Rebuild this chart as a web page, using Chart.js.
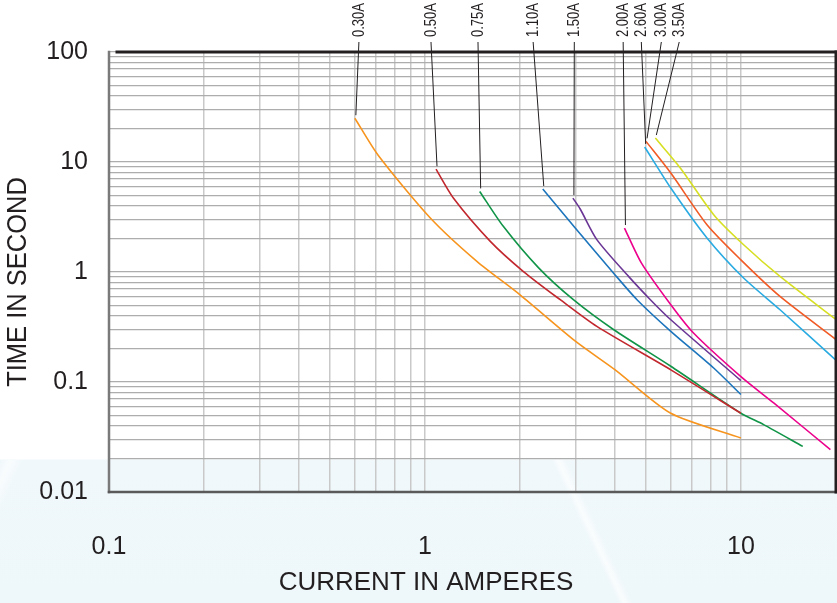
<!DOCTYPE html>
<html>
<head>
<meta charset="utf-8">
<title>Time-current curves</title>
<script src="https://cdn.jsdelivr.net/npm/chart.js@4.4.1/dist/chart.umd.min.js"></script>
<style>
  html, body { margin: 0; padding: 0; }
  body {
    width: 837px; height: 603px; overflow: hidden;
    background: linear-gradient(to bottom, #ffffff 0px, #ffffff 459px, #f0f8fb 460px, #eef7fa 603px);
    position: relative;
  }
  .streak {
    position: absolute; left: 0; top: 460px; width: 837px; height: 143px;
    background: linear-gradient(115deg, rgba(255,255,255,0) 0px, rgba(255,255,255,0.6) 10px, rgba(255,255,255,0) 22px);
    pointer-events: none;
  }
  .streak2 {
    position: absolute; left: 0; top: 460px; width: 837px; height: 143px;
    background: linear-gradient(65deg, rgba(255,255,255,0) 560px, rgba(255,255,255,0.7) 566px, rgba(255,255,255,0) 574px);
    pointer-events: none;
  }
  canvas { position: absolute; left: 0; top: 0; }
</style>
</head>
<body>
<div class="streak"></div>
<div class="streak2"></div>
<canvas id="curves" width="837" height="603"></canvas>
<script>
// ratings shown at the top, and where each label sits along the current axis
const ratings = ["0.30A", "0.50A", "0.75A", "1.10A", "1.50A", "2.00A", "2.60A", "3.00A", "3.50A"];
const labelCurrent = [0.618, 1.045, 1.472, 2.20, 2.97, 4.24, 4.84, 5.60, 6.38];
const colors = ["#f7941d", "#c1272d", "#109447", "#1c75bc", "#6a3695", "#ec008c", "#29abe2", "#f15a24", "#d7df23"];

// current (A) / time (s) pairs
const current030 = [0.6, 0.71, 1.04, 1.46, 2.0, 3.0, 4.0, 6.0, 10];
const time030    = [25, 11.6, 3.1, 1.25, 0.62, 0.234, 0.129, 0.052, 0.031];
const current050 = [1.084, 1.23, 1.61, 2.05, 2.68, 3.5, 6, 10];
const time050    = [8.6, 4.7, 1.9, 1.01, 0.56, 0.32, 0.129, 0.052];
const current075 = [1.49, 1.77, 2.29, 2.95, 3.95, 6, 10, 11.8, 15.7];
const time075    = [5.4, 2.6, 1.09, 0.56, 0.3, 0.139, 0.052, 0.041, 0.026];
const current110 = [2.36, 2.99, 3.95, 4.69, 6, 8.2, 10];
const time110    = [5.68, 2.51, 0.98, 0.56, 0.289, 0.134, 0.077];
const current150 = [2.94, 3.1, 3.5, 4.41, 5.17, 6, 10];
const time150    = [4.7, 3.74, 1.97, 0.912, 0.56, 0.368, 0.103];
const current200 = [4.28, 4.84, 6, 7.08, 10, 12.7, 19.2];
const time200    = [2.51, 1.21, 0.504, 0.279, 0.112, 0.0645, 0.0243];
const current260 = [4.96, 6, 7.81, 10.2, 13.3, 19.9];
const time260    = [13.7, 5.8, 2.04, 0.882, 0.454, 0.16];
const current300 = [5.01, 6, 7.81, 10, 13.3, 19.9];
const time300    = [15.4, 7.94, 2.69, 1.29, 0.6, 0.246];
const current350 = [5.36, 6.43, 8.2, 10.2, 13.3, 19.9];
const time350    = [16.5, 8.82, 3.32, 1.77, 0.912, 0.374];

const xTickLabels = [0.1, 1, 10];
const yTickLabels = [0.01, 0.1, 1, 10, 100];
const xTitle = "CURRENT IN AMPERES";
const yTitle = "TIME IN SECOND";

const currents = [current030, current050, current075, current110, current150, current200, current260, current300, current350];
const times = [time030, time050, time075, time110, time150, time200, time260, time300, time350];

const textColor = "#231f20";
const fontFamily = "'Liberation Sans', Arial, sans-serif";

function decadeTicks(min, max) {
    const ticks = [];
    for (let e = Math.floor(Math.log10(min)); e <= Math.ceil(Math.log10(max)); e++) {
        for (let m = 1; m <= 9; m++) {
            const v = parseFloat((m * Math.pow(10, e)).toPrecision(6));
            if (v >= min - 1e-9 && v <= max + 1e-9) ticks.push({ value: v });
        }
    }
    return ticks;
}

function isLabel(list, v) {
    return list.some(t => Math.abs(Math.log10(t) - Math.log10(v)) < 1e-6);
}

const framePlugin = {
    id: "frame",
    afterDatasetsDraw(chart) {
        const { ctx, chartArea: a, scales } = chart;
        ctx.save();
        // leader lines and rating labels
        ctx.strokeStyle = "#231f20";
        ctx.lineWidth = 1;
        ctx.fillStyle = textColor;
        ctx.font = "13px " + fontFamily;
        ratings.forEach((name, i) => {
            const lx = scales.x.getPixelForValue(labelCurrent[i]);
            const ex = scales.x.getPixelForValue(currents[i][0]);
            const ey = scales.y.getPixelForValue(times[i][0]);
            ctx.beginPath();
            ctx.moveTo(lx, 42);
            ctx.lineTo(ex + 1, ey - 3);
            ctx.stroke();
            ctx.save();
            ctx.translate(lx, 37);
            ctx.rotate(-Math.PI / 2);
            ctx.scale(1, 1.3);
            ctx.textAlign = "left";
            ctx.textBaseline = "middle";
            ctx.fillText(name, 0, 0);
            ctx.restore();
        });
        // axis titles
        ctx.textAlign = "center";
        ctx.textBaseline = "middle";
        ctx.font = "26px " + fontFamily;
        ctx.fillText(xTitle, 426, 583);
        ctx.save();
        ctx.translate(18, 282);
        ctx.rotate(-Math.PI / 2);
        ctx.scale(1, 1.08);
        ctx.font = "25.5px " + fontFamily;
        ctx.fillText(yTitle, 0, 0);
        ctx.restore();
        // plot frame
        ctx.lineCap = "square";
        ctx.strokeStyle = "#7a7a7a";
        ctx.lineWidth = 2.5;
        ctx.beginPath(); ctx.moveTo(a.left, a.top); ctx.lineTo(a.left, a.bottom); ctx.stroke();
        ctx.strokeStyle = "#5a5a5a";
        ctx.beginPath(); ctx.moveTo(a.left, a.bottom); ctx.lineTo(a.right, a.bottom); ctx.stroke();
        ctx.strokeStyle = "#231f20";
        ctx.lineWidth = 3;
        ctx.beginPath(); ctx.moveTo(a.left + 8, a.top); ctx.lineTo(a.right, a.top); ctx.stroke();
        ctx.beginPath(); ctx.moveTo(a.right, a.top); ctx.lineTo(a.right, a.bottom); ctx.stroke();
        ctx.restore();
    }
};

const datasets = ratings.map((name, i) => ({
    label: name,
    data: currents[i].map((c, k) => ({ x: c, y: times[i][k] })),
    borderColor: colors[i],
    borderWidth: 1.6,
    pointRadius: 0,
    fill: false,
    tension: 0.25
}));

const ctx = document.getElementById("curves").getContext("2d");
new Chart(ctx, {
    type: "line",
    data: { datasets: datasets },
    plugins: [framePlugin],
    options: {
        responsive: false,
        animation: false,
        layout: { padding: { top: 52, right: 1, left: 0, bottom: 0 } },
        plugins: { legend: { display: false }, tooltip: { enabled: false } },
        scales: {
            x: {
                type: "logarithmic",
                min: 0.1,
                max: 20,
                afterBuildTicks: s => { s.ticks = decadeTicks(0.1, 20); },
                afterFit: s => { s.height = 111; s.paddingLeft = 0; s.paddingRight = 0; },
                grid: { color: "#c9c9c9", lineWidth: 1.5, drawTicks: false },
                border: { display: false },
                ticks: {
                    autoSkip: false,
                    maxRotation: 0,
                    padding: 40,
                    color: textColor,
                    font: { family: fontFamily, size: 25 },
                    callback: v => isLabel(xTickLabels, v) ? String(v) : ""
                }
            },
            y: {
                type: "logarithmic",
                min: 0.01,
                max: 100,
                afterBuildTicks: s => { s.ticks = decadeTicks(0.01, 100); },
                afterFit: s => { s.width = 109; s.paddingTop = 0; s.paddingBottom = 0; },
                grid: { color: "#adadad", lineWidth: 1.2, drawTicks: false },
                border: { display: false },
                ticks: {
                    autoSkip: false,
                    padding: 21,
                    color: textColor,
                    font: { family: fontFamily, size: 25 },
                    callback: v => isLabel(yTickLabels, v) ? String(v) : ""
                }
            }
        }
    }
});
</script>
</body>
</html>
